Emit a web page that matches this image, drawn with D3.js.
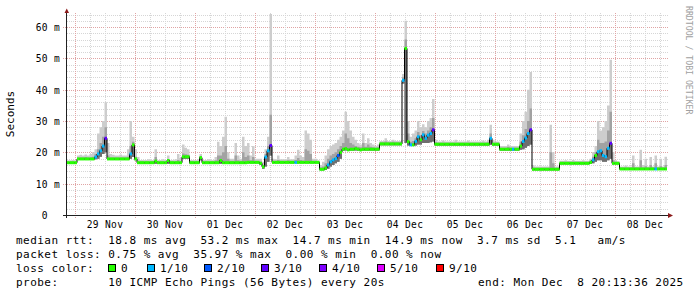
<!DOCTYPE html>
<html>
<head>
<meta charset="utf-8">
<script src="https://cdn.jsdelivr.net/npm/d3@7"></script>
<style>
html, body { margin: 0; padding: 0; background: #fff; }
svg { display: block; }
text { font-family: "DejaVu Sans Mono", monospace; white-space: pre; }
</style>
</head>
<body>
<svg id="chart" width="697" height="297"></svg>
<script>
// one sample per hour (ms), first sample 28 Nov 20:48
const median = [
  16.7,16.7,16.7,16.7,17.9,17.9,17.9,17.9,17.9,17.9,17.9,18.5,19.5,20.5,22,24.5,17.9,17.9,17.9,17.9,17.9,17.9,17.9,17.9,
  17.9,19.5,22.4,17.9,16.7,16.7,16.7,16.7,16.7,16.7,16.7,17.2,16.7,16.7,16.7,16.7,17.4,16.7,16.7,16.7,16.7,16.7,18.6,18.6,
  18.6,16.7,16.7,16.7,16.7,18.3,16.7,16.7,16.7,16.7,16.7,16.7,16.7,17.4,16.7,16.7,16.7,16.7,16.7,16.7,16.7,16.7,16.7,16.7,
  16.8,16.8,16.8,16.8,16.8,16.5,15.4,18.5,20.5,22.2,16.8,16.8,16.8,16.8,16.8,16.8,16.8,16.8,16.8,16.8,16.8,16.8,16.8,16.8,
  16.8,16.8,16.8,16.8,16.8,14.6,14.6,15,16,17,17.6,18,19,20,21,21.2,20.8,21,21,21.2,21,20.8,21,21,
  21,21,21,21,21,22.7,22.7,22.7,22.7,22.7,22.7,22.7,22.7,22.7,43,53.2,23.4,22.4,22.4,23.5,25,24,25.6,24.5,
  25.5,26,27.2,22.6,22.6,22.6,22.6,22.6,22.6,22.6,22.6,22.6,22.6,22.6,22.6,22.6,22.6,22.6,22.6,22.6,22.6,22.6,22.6,22.6,
  22.6,24.5,22.6,22.6,22.6,21,21,21,21,21,21,21,21,22,23.5,24.6,26,27.2,14.6,14.6,14.6,14.6,14.6,14.6,
  14.6,14.6,14.6,14.6,14.6,16.5,16.5,16.5,16.5,16.5,16.5,16.5,16.5,16.5,16.5,16.5,16.5,16.8,17.6,19,20.2,20.5,19,18.6,
  21.3,22.9,16.5,16.5,16.5,14.7,14.7,14.7,14.7,14.7,14.7,14.7,14.7,14.7,14.7,14.7,14.7,14.7,14.7,14.7,14.7,14.7,14.7,14.7
];
const smokeMin = [
  16.4,16.4,16.4,16.4,17.6,17.6,17.6,17.6,17.6,17.6,17.6,17.8,18,18.6,19.5,20,17.6,17.6,17.6,17.6,17.6,17.6,17.6,17.6,
  17.6,18,18.5,17.5,16.4,16.4,16.4,16.4,16.4,16.4,16.4,16.4,16.4,16.4,16.4,16.4,16.4,16.4,16.4,16.4,16.4,16.4,18,18,
  18,16.4,16.4,16.4,16.4,17.5,16.4,16.4,16.4,16.4,16.4,16.4,16.4,16.4,16.4,16.4,16.4,16.4,16.4,16.4,16.4,16.4,16.4,16.4,
  16.5,16.5,16.5,16.5,16.5,16,14.8,15.5,17,19,16.5,16.5,16.5,16.5,16.5,16.5,16.5,16.5,16.5,16.5,16.5,16.5,16.5,16.5,
  16.5,16.5,16.5,16.5,16.5,14.3,14.3,14.4,14.8,15.5,16,16.5,17,18,20.6,20.6,20.6,20.6,20.6,20.6,20.6,20.6,20.6,20.6,
  20.6,20.6,20.6,20.6,20.6,22.3,22.3,22.3,22.3,22.3,22.3,22.3,22.3,22.3,42,23,22.2,22,22,22.2,22.5,22.5,23,23,
  23,23.2,23.5,22.2,22.2,22.2,22.2,22.2,22.2,22.2,22.2,22.2,22.2,22.2,22.2,22.2,22.2,22.2,22.2,22.2,22.2,22.2,22.2,22.2,
  22.2,22.4,22.2,22.2,22.2,20.6,20.6,20.6,20.6,20.6,20.6,20.6,20.6,20.8,21,21.5,22,22.5,14.3,14.3,14.3,14.3,14.3,14.3,
  14.3,14.3,14.3,14.3,14.3,16.2,16.2,16.2,16.2,16.2,16.2,16.2,16.2,16.2,16.2,16.2,16.2,16.3,16.5,17,17.5,17.5,17,17,
  17.5,18,16.2,16.2,16.2,14.4,14.4,14.4,14.4,14.4,14.4,14.4,14.4,14.4,14.4,14.4,14.4,14.4,14.4,14.4,14.4,14.4,14.4,14.4
];
const smokeHi = [
  17.1,17.1,17.1,17.1,18.4,18.4,18.4,18.5,18.4,18.4,18.6,19.5,21,23,25,28,19,18.4,18.4,18.4,18.4,18.4,18.4,18.4,
  18.6,22,23.4,18.6,17.3,17.2,17.2,17.2,17.2,17.2,17.2,18.5,17.2,17.2,17.2,17.2,17.8,17.2,17.2,17.2,17.6,17.2,19.6,19.4,
  19.2,17.2,17.2,17.2,17.2,18.8,17.2,17.2,17.2,17.2,17.2,17.5,19,19,20,22,18,17.3,17.3,19,17.5,17.3,20,18.5,
  19,17.5,18.5,17.3,17.3,17.1,16,19.5,22,32,17.3,17.3,17.6,17.3,17.3,17.3,17.5,17.3,17.3,17.6,18.2,17.6,17.4,21,
  20.5,19.5,17.3,17.3,17.2,15.2,15.5,16.5,18,19,19.5,20,21,22,23,26,24.5,23,22.5,22,21.8,21.6,23,21.8,
  22.5,21.8,21.6,21.5,21.6,23.2,23.2,23.5,23.2,23.2,23.4,23.2,23.2,23.2,44,56,26,23.4,23.6,24.5,26.5,25.5,26.8,26,
  27,28,31,23.2,23.1,23.1,23.1,23.1,23.1,23.1,23.1,23.1,23.1,23.1,23.1,23.1,23.1,23.1,23.1,23.1,23.1,23.1,23.1,23.1,
  23.2,26,23.1,23.1,23.1,21.5,21.5,21.5,21.8,21.5,21.5,21.5,21.5,23.5,25.5,27.5,30,34,15.2,15.1,15.1,15.1,15.1,15.1,
  15.1,20,16.5,15.1,15.1,17,17,17,17,17,17,17,17,17,17,17,17,17.4,18.6,20,24,23,23,23.5,
  27,33,17.5,17,16.9,15.2,15.2,15.2,15.2,15.2,16.5,15.2,15.2,17.5,15.2,15.6,15.2,16,15.2,16.5,15.2,15.6,15.2,16
];
const smokeMax = [
  17.5,17.5,17.6,17.5,19,19.2,19,19.3,19,19.5,20,21,26,28,30,36,23,19.5,19.2,19,19,19.3,19,19,
  21,30,25,21,18.5,17.6,17.6,17.6,17.8,17.6,17.6,21,17.6,17.6,17.8,17.6,19,17.6,17.6,17.8,19.5,18.2,22.5,21.5,
  21,17.6,17.6,17.6,17.8,19.5,17.6,17.6,17.8,17.6,17.6,18.5,23.4,22,25,31.4,20,18,18,23,19,18,25,22,
  23,19,22,18,18,18,17,21,25,64.2,18,17.8,19,17.8,17.8,17.8,18.5,17.8,17.8,19,20.8,19,18.5,27,
  26,24,18,18,17.5,16,17,19,21,22,22.5,23,24,25,27,33,30,27,25,24,23,22.5,26,23,
  24.5,23,22.5,22,22.5,23.6,23.6,24.5,23.6,23.6,24,23.6,23.6,23.6,45,62,30,25,26,27,30,28,29,28,
  30,31,37,24,23.5,23.5,23.8,23.5,23.5,23.5,23.5,24,23.5,23.5,23.5,23.5,23.8,23.5,23.5,23.5,23.5,23.5,23.8,23.5,
  24,28.8,24,23.5,23.5,22,22,22,22.5,22,22,22,22,26,30,33,40,45.7,16,15.5,15.5,15.5,15.5,15.5,
  15.5,28.8,20,15.5,15.5,17.3,17.3,17.5,17.3,17.3,17.6,17.3,17.3,17.3,17.5,17.3,17.3,18,20,22,30,27,28,30,
  35,49.6,20,17.5,17.2,15.5,15.5,15.8,15.5,15.5,19,15.5,15.5,20.8,16,18,15.5,18.5,15.5,19,15.5,18,15.5,18.6
];
// [sample index, lost pings out of 10]
const lossEvents = [
  [11,1],[12,1],[13,1],[14,1],[15,3],[25,1],[79,1],[80,1],[81,3],[91,1],
  [104,1],[105,1],[106,1],[107,1],[108,2],[134,1],[137,1],[139,1],[140,1],
  [142,1],[143,1],[144,1],[145,1],[146,3],[169,1],[178,1],[182,1],[183,1],
  [184,1],[185,3],[210,1],[212,1],[213,1],[214,1],[215,1],[216,1],[217,3],[235,1]
];

const lossLabels = ["0", "1/10", "2/10", "3/10", "4/10", "5/10", "9/10"];
const lossColors = ["#26ff00", "#00b8ff", "#0059ff", "#5e00ff", "#7e00ff", "#dd00ff", "#ff0000"];
const lossBoxX = [108, 147, 204, 261, 319, 377, 436];
const yTicks = [0, 10, 20, 30, 40, 50, 60];

const legendRtt = "median rtt:  18.8 ms avg  53.2 ms max  14.7 ms min  14.9 ms now  3.7 ms sd  5.1   am/s";
const legendLoss = "packet loss: 0.75 % avg  35.97 % max  0.00 % min  0.00 % now";
const legendProbe = "probe:       10 ICMP Echo Pings (56 Bytes) every 20s";
const legendEnd = "end: Mon Dec  8 20:13:36 2025";

// layout
const plotL = 67, plotR = 667, plotT = 13, plotB = 215;
const start = new Date(2025, 10, 28, 20, 48);
const end = d3.timeHour.offset(start, median.length);

const x = d3.scaleTime().domain([start, end]).range([plotL, plotR]);
const y = d3.scaleLinear().domain([0, 64.5]).range([plotB, plotT]);

const svg = d3.select("#chart");

// grid
const grid = svg.append("g");
const px = v => Math.round(v) + 0.5;

d3.range(2, 64.5, 2).filter(v => v % 10 !== 0).forEach(v => {
    grid.append("line")
        .attr("x1", plotL).attr("x2", plotR + 1)
        .attr("y1", px(y(v))).attr("y2", px(y(v)))
        .attr("stroke", "#d6d6d6").attr("stroke-dasharray", "1,1");
});
yTicks.filter(v => v > 0).forEach(v => {
    grid.append("line")
        .attr("x1", plotL - 4).attr("x2", plotR + 1)
        .attr("y1", px(y(v))).attr("y2", px(y(v)))
        .attr("stroke", "#e0a4a4").attr("stroke-dasharray", "1,1");
});
d3.timeHour.every(6).range(start, end).forEach(t => {
    const major = t.getHours() === 0;
    grid.append("line")
        .attr("x1", px(x(t))).attr("x2", px(x(t)))
        .attr("y1", plotT).attr("y2", plotB + (major ? 3 : 2))
        .attr("stroke", major ? "#e0a4a4" : "#d6d6d6")
        .attr("stroke-dasharray", "1,1");
});

// smoke
const pts = median.map((m, i) => ({
    t: d3.timeHour.offset(start, i), m, lo: smokeMin[i], hi: smokeHi[i], max: smokeMax[i]
}));
pts.push({ ...pts[pts.length - 1], t: end });

const band = (y0, y1) => d3.area()
    .curve(d3.curveStepAfter)
    .x(d => x(d.t)).y0(d => y(d[y0])).y1(d => y(d[y1]));

svg.append("path").datum(pts).attr("d", band("lo", "max")).attr("fill", "#cdcdcd");
svg.append("path").datum(pts).attr("d", band("lo", "hi")).attr("fill", "#a2a2a2");
svg.append("path").datum(pts).attr("d", band("lo", "m")).attr("fill", "#6e6e6e");

// median: black steps, coloured by loss
svg.append("path").datum(pts)
    .attr("d", d3.line().curve(d3.curveStepAfter).x(d => x(d.t)).y(d => y(d.m)))
    .attr("fill", "none").attr("stroke", "#000").attr("stroke-width", 1);

const lossOf = new Map(lossEvents);
const colorFor = n => lossColors[n >= 9 ? 6 : Math.min(n, 5)];

svg.append("g").selectAll("line")
    .data(median.map((m, i) => ({ i, m })))
    .join("line")
    .attr("x1", d => x(d3.timeHour.offset(start, d.i)))
    .attr("x2", d => x(d3.timeHour.offset(start, d.i + 1)))
    .attr("y1", d => y(d.m)).attr("y2", d => y(d.m))
    .attr("stroke", d => colorFor(lossOf.get(d.i) || 0))
    .attr("stroke-width", 3);

// axes
svg.append("line")
    .attr("x1", 66.5).attr("x2", 66.5).attr("y1", plotB + 3).attr("y2", 11)
    .attr("stroke", "#202020");
svg.append("line")
    .attr("x1", 63).attr("x2", 670).attr("y1", 215.5).attr("y2", 215.5)
    .attr("stroke", "#202020");
svg.append("path").attr("d", "M64.5,13L69,13L66.75,8.5Z").attr("fill", "#8b1a1a");
svg.append("path").attr("d", "M668,213L668,218L673,215.5Z").attr("fill", "#8b1a1a");

// y labels
svg.append("g").selectAll("text")
    .data(yTicks)
    .join("text")
    .attr("x", 60).attr("y", d => px(y(d)) + 3.5)
    .attr("text-anchor", "end")
    .attr("font-size", "9.6px")
    .attr("letter-spacing", "0.3px")
    .text(d => d === 0 ? "0  " : d + " m");

// x labels at noon of each day
svg.append("g").selectAll("text")
    .data(d3.timeDay.range(d3.timeDay.ceil(start), end))
    .join("text")
    .attr("x", d => x(d3.timeHour.offset(d, 12)))
    .attr("y", 228)
    .attr("text-anchor", "middle")
    .attr("font-size", "9.6px")
    .attr("letter-spacing", "0.3px")
    .text(d3.timeFormat("%d %b"));

svg.append("text")
    .attr("transform", "translate(14,114) rotate(-90)")
    .attr("text-anchor", "middle")
    .attr("font-size", "11px")
    .text("Seconds");

svg.append("text")
    .attr("transform", "translate(686,6) rotate(90)")
    .attr("font-size", "8.2px")
    .attr("fill", "#a0a0a0")
    .text("RRDTOOL / TOBI OETIKER");

// legend
const legend = svg.append("g")
    .attr("font-size", "11px")
    .attr("letter-spacing", "0.47px");

legend.append("text").attr("x", 16).attr("y", 244).text(legendRtt);
legend.append("text").attr("x", 16).attr("y", 258).text(legendLoss);
legend.append("text").attr("x", 16).attr("y", 272).text("loss color:");
legend.append("text").attr("x", 16).attr("y", 286).text(legendProbe);
legend.append("text").attr("x", 478).attr("y", 286).text(legendEnd);

lossLabels.forEach((lab, k) => {
    legend.append("rect")
        .attr("x", lossBoxX[k] + 0.5).attr("y", 264.5)
        .attr("width", 7).attr("height", 7)
        .attr("fill", lossColors[k]).attr("stroke", "#000");
    legend.append("text")
        .attr("x", lossBoxX[k] + 13).attr("y", 272)
        .text(lab);
});
</script>
</body>
</html>
